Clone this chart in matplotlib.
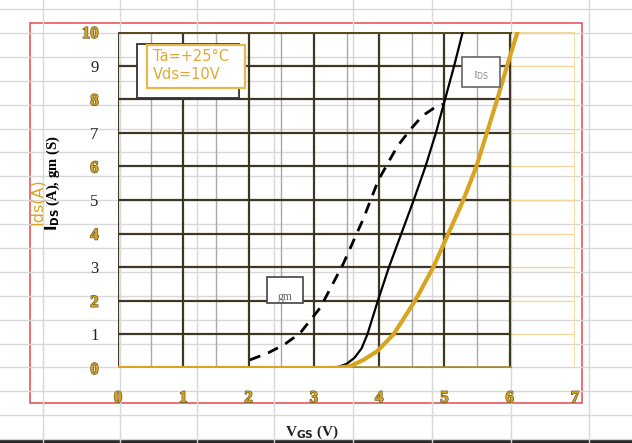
import matplotlib
matplotlib.use("Agg")
import matplotlib.pyplot as plt
import matplotlib.patheffects as pe
from matplotlib.patches import Rectangle

# datasheet Ids curve (black)
ds_vgs = [3.2, 3.35, 3.5, 3.62, 3.73, 3.82, 3.98, 4.15, 4.34, 4.53, 4.71, 4.87, 5.01, 5.15, 5.28]
ds_ids = [0, 0.02, 0.12, 0.3, 0.58, 1, 2, 3, 4, 5, 6, 7, 8, 9, 10]

# datasheet gm curve (dashed)
gm_vgs = [2.02, 2.3, 2.55, 2.79, 3.1, 3.45, 3.76, 3.99, 4.28, 4.48, 4.66, 4.85, 4.98]
gm_val = [0.24, 0.45, 0.7, 1.04, 1.8, 3.1, 4.45, 5.6, 6.6, 7.1, 7.5, 7.75, 7.85]

# measured Ids (gold)
m_vgs = [0, 3.3, 3.55, 3.76, 3.97, 4.22, 4.55, 4.83, 5.06, 5.29, 5.49, 5.65, 5.81, 5.96, 6.12]
m_ids = [0, 0, 0.05, 0.24, 0.5, 1, 2, 3, 4, 5, 6, 7, 8, 9, 10]

x_ticks = [0, 1, 2, 3, 4, 5, 6, 7]
y_ticks = [0, 1, 2, 3, 4, 5, 6, 7, 8, 9, 10]

W, H = 632, 443
GOLD = "#D9A521"
LIGHT_GOLD = "#F0D79A"
OLIVE = "#3f3724"
SERIF = "Liberation Serif"

fig = plt.figure(figsize=(W / 100, H / 100), dpi=100)

# spreadsheet background, pixel coords
bg = fig.add_axes([0, 0, 1, 1], zorder=0)
bg.set_xlim(0, W)
bg.set_ylim(H, 0)
bg.axis("off")
for x in [43, 120, 197, 274, 353, 432, 511, 589]:
    bg.axvline(x, color="#d8d8d8", lw=1)
y = 9
while y < H:
    bg.axhline(y, color="#d8d8d8", lw=1)
    y += 23.9
bg.add_patch(Rectangle((30, 23), 552, 380, fill=False, ec="#e5484d", lw=1.1))
bg.add_patch(Rectangle((0, 440), W, 3, color="#2a2a2a", lw=0))

ax = fig.add_axes([118 / W, 1 - 368 / H, 457 / W, 336 / H], zorder=1)
ax.set_facecolor("none")
ax.set_xlim(0, 7)
ax.set_ylim(0, 10)
for s in ax.spines.values():
    s.set_visible(False)

# light gold excel gridlines / frame
for yy in y_ticks:
    ax.plot([6, 7], [yy, yy], color=LIGHT_GOLD, lw=1, zorder=1)
ax.plot([7, 7], [0, 10], color=LIGHT_GOLD, lw=1.2, zorder=1)

# datasheet grid
for xx in [0.5, 1.5, 2.5, 3.5, 4.5, 5.5]:
    ax.plot([xx, xx], [0, 10], color="#a9a9a9", lw=1, zorder=2)
for xx in range(0, 7):
    ax.plot([xx, xx], [0, 10], color=OLIVE, lw=1.6, zorder=2)
for yy in y_ticks:
    ax.plot([0, 6], [yy, yy], color=OLIVE, lw=1.6, zorder=2)
ax.plot([0, 6], [10, 10], color="#5a4a22", lw=2.2, zorder=2)
ax.plot([0, 6], [0, 0], color="#A88A2E", lw=2.6, zorder=2)

# curves
ax.plot(gm_vgs, gm_val, color="black", lw=2, dashes=(4, 3), zorder=4)
ax.plot(ds_vgs, ds_ids, color="black", lw=1.6, zorder=4)
ax.plot(m_vgs, m_ids, color=GOLD, lw=3, zorder=5)

# boxes
ax.add_patch(Rectangle((0.29, 8.04), 1.56, 1.6, fc="white", ec="#333333", lw=1.3, zorder=6))
ax.add_patch(Rectangle((0.44, 8.33), 1.51, 1.28, fc="white", ec="#E6B84A", lw=1.6, zorder=7))
ax.text(0.53, 9.0, "Ta=+25°C\nVds=10V", color="#E0A935", fontsize=10.5, family="DejaVu Sans",
        va="center", ha="left", linespacing=1.25, zorder=8)
ax.add_patch(Rectangle((5.27, 8.36), 0.58, 0.9, fc="white", ec="#666666", lw=1.2, zorder=6))
ax.text(5.56, 8.7, r"I$_{\rm DS}$", color="#888888", fontsize=8, family=SERIF,
        ha="center", va="center", zorder=7)
ax.add_patch(Rectangle((2.28, 1.93), 0.55, 0.78, fc="white", ec="#444444", lw=1.2, zorder=6))
ax.text(2.55, 2.1, "gm", color="#666666", fontsize=8.5, family=SERIF,
        ha="center", va="center", zorder=7)

# tick labels
shadow = [pe.withStroke(linewidth=1.0, foreground="#6a5a2a")]
ax.set_xticks(x_ticks)
ax.set_yticks(y_ticks)
ax.tick_params(length=0)
ax.set_xticklabels([str(v) for v in x_ticks], family=SERIF, fontsize=12, fontweight="bold", color=GOLD)
ax.set_yticklabels([str(v) for v in y_ticks], family=SERIF, fontsize=12)
ax.tick_params(axis="x", pad=16)
ax.tick_params(axis="y", pad=14)
for lab in ax.get_xticklabels():
    lab.set_path_effects(shadow)
for v, lab in zip(y_ticks, ax.get_yticklabels()):
    if v % 2 == 0:
        lab.set_color(GOLD)
        lab.set_fontweight("bold")
        lab.set_path_effects(shadow)
    else:
        lab.set_color("#222222")

# axis titles
fig.text(53 / W, 1 - 183 / H, r"$\mathbf{I_{DS}}$ (A), gm (S)", rotation=90, family=SERIF,
         fontsize=10.5, fontweight="bold", ha="center", va="center")
fig.text(37 / W, 1 - 202 / H, "Ids(A)", rotation=90, family="DejaVu Sans", color=GOLD,
         fontsize=11.5, ha="center", va="center")
fig.text(312 / W, 1 - 432 / H, r"V$_{\mathbf{GS}}$ (V)", family=SERIF, fontsize=11,
         fontweight="bold", ha="center", va="center", color="#222222")

fig.savefig("out.png", dpi=100)
